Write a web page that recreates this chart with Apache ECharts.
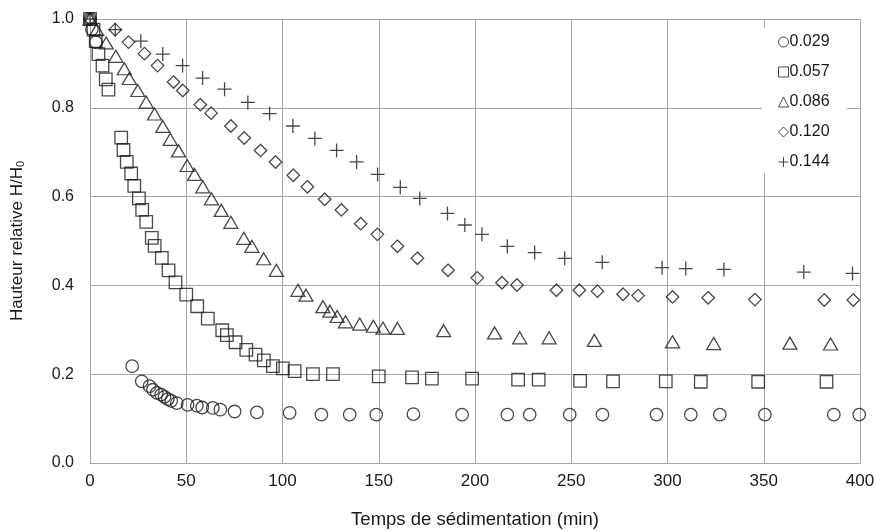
<!DOCTYPE html>
<html>
<head>
<meta charset="utf-8">
<script src="https://cdn.jsdelivr.net/npm/echarts@6/dist/echarts.min.js"></script>
<style>
html,body{margin:0;padding:0;background:#fff;}
#chart{width:876px;height:531px;}
</style>
</head>
<body>
<div id="chart"></div>
<script>
// ---- data ----
const seriesNames = ['0.029', '0.057', '0.086', '0.120', '0.144'];
const xTicks = [0, 50, 100, 150, 200, 250, 300, 350, 400];
const yTicks = [0.0, 0.2, 0.4, 0.6, 0.8, 1.0];

const x029 = [0, 1, 3, 21.9, 26.9, 30.9, 32.7, 34.7, 37, 38.7, 40.4, 42.2, 45.1, 50.7, 55.5, 58.3, 63.8, 67.7, 75.1, 86.7, 103.7, 120.2, 134.9, 148.7, 168, 193.3, 216.8, 228.4, 249.2, 266.2, 294.3, 312.1, 327.2, 350.6, 386.4, 399.6];
const y029 = [1.0, 0.977, 0.948, 0.218, 0.184, 0.173, 0.165, 0.158, 0.154, 0.149, 0.144, 0.140, 0.135, 0.131, 0.129, 0.125, 0.124, 0.120, 0.116, 0.114, 0.113, 0.109, 0.109, 0.109, 0.110, 0.109, 0.109, 0.109, 0.109, 0.109, 0.109, 0.109, 0.109, 0.109, 0.109, 0.109];

const x057 = [0, 1.8, 3, 4.4, 6.5, 8.2, 9.6, 16.2, 17.4, 19.1, 21.4, 23, 25.4, 27.1, 29.2, 32.1, 33.6, 37.3, 40.8, 44.4, 50, 55.7, 61.2, 68.7, 71.1, 75.6, 81.2, 86, 90.3, 95, 100.2, 106.3, 115.8, 126.2, 150, 167.3, 177.6, 198.5, 222.4, 233.1, 254.6, 271.7, 299.1, 317.3, 347.1, 382.6];
const y057 = [1.0, 0.976, 0.95, 0.921, 0.895, 0.864, 0.841, 0.733, 0.705, 0.678, 0.652, 0.624, 0.596, 0.570, 0.543, 0.507, 0.489, 0.462, 0.434, 0.407, 0.379, 0.353, 0.325, 0.299, 0.288, 0.272, 0.255, 0.244, 0.231, 0.218, 0.213, 0.207, 0.200, 0.200, 0.195, 0.193, 0.190, 0.190, 0.188, 0.188, 0.185, 0.184, 0.184, 0.183, 0.183, 0.183];

const x086 = [0, 3.5, 8.4, 13.4, 17.8, 20.4, 24.8, 29.2, 33.5, 37.8, 41.7, 46, 50.5, 54.3, 58.6, 63.1, 68.2, 73.2, 79.9, 84.1, 90.2, 96.8, 108, 112.2, 121, 124.6, 128.4, 132.7, 140.1, 147.2, 152.2, 159.7, 183.7, 210.2, 223.2, 238.5, 262, 302.6, 324, 363.6, 384.7];
const y086 = [1.0, 0.976, 0.946, 0.916, 0.888, 0.866, 0.839, 0.813, 0.786, 0.758, 0.729, 0.703, 0.670, 0.650, 0.622, 0.595, 0.569, 0.542, 0.506, 0.488, 0.460, 0.434, 0.389, 0.378, 0.352, 0.342, 0.330, 0.318, 0.313, 0.308, 0.304, 0.303, 0.298, 0.293, 0.282, 0.282, 0.276, 0.273, 0.269, 0.270, 0.268];

const x120 = [0, 13.1, 20, 28.3, 35.1, 43.4, 48.2, 57.3, 62.9, 73.2, 80.1, 88.6, 96.4, 105.6, 112.9, 121.9, 130.6, 140.6, 149.3, 159.7, 170.1, 186, 201.2, 214, 221.8, 242.3, 254.2, 263.6, 276.9, 284.7, 302.6, 321.1, 345.4, 381.4, 396.5];
const y120 = [1.0, 0.976, 0.948, 0.922, 0.895, 0.858, 0.839, 0.807, 0.788, 0.759, 0.732, 0.704, 0.678, 0.648, 0.622, 0.594, 0.570, 0.539, 0.515, 0.488, 0.461, 0.434, 0.417, 0.406, 0.401, 0.389, 0.389, 0.387, 0.380, 0.377, 0.374, 0.372, 0.368, 0.367, 0.367];

const x144 = [0, 13.1, 26.4, 37.8, 48.1, 58.5, 69.9, 82, 93.3, 105.4, 116.8, 128.1, 138.5, 149.4, 161.2, 171.3, 185.7, 194.7, 203.6, 216.8, 231, 246.6, 266.1, 297.2, 309.5, 329.3, 370.8, 396.1];
const y144 = [1.0, 0.976, 0.95, 0.921, 0.895, 0.867, 0.842, 0.812, 0.787, 0.759, 0.731, 0.704, 0.678, 0.650, 0.621, 0.596, 0.562, 0.536, 0.515, 0.488, 0.474, 0.461, 0.452, 0.440, 0.438, 0.436, 0.430, 0.427];

// ---- build chart ----
const pairs = (xs, ys) => xs.map((x, i) => [x, ys[i]]);
const dataSets = [pairs(x029, y029), pairs(x057, y057), pairs(x086, y086), pairs(x120, y120), pairs(x144, y144)];
const symbols = ['circle', 'rect', 'triangle', 'diamond', 'path://M0,6H12M6,0V12'];
const sizes = [12.5, 12.5, [14, 12], [12.5, 12.5], 14];

const FONT = 'Liberation Sans, Arial, sans-serif';
const INK = '#1a1a1a';
const GRID = '#a6a6a6';

const chart = echarts.init(document.getElementById('chart'), null, {renderer: 'canvas'});
chart.setOption({
  animation: false,
  backgroundColor: '#fff',
  grid: {left: 90, right: 16, top: 19, bottom: 68, containLabel: false, outerBoundsMode: 'none'},
  legend: {
    orient: 'vertical',
    left: 762,
    top: 28,
    backgroundColor: '#fff',
    padding: [6, 17, 3, 16],
    itemGap: 14,
    itemWidth: 10,
    itemHeight: 10,
    itemStyle: {borderWidth: 1},
    textStyle: {fontFamily: FONT, fontSize: 16, color: INK, padding: [0, 0, 0, -4], lineHeight: 16},
    data: seriesNames.map(n => ({name: n}))
  },
  xAxis: {
    type: 'value',
    min: 0, max: 400, interval: 50,
    name: 'Temps de sédimentation (min)',
    nameLocation: 'middle',
    nameGap: 47,
    nameTextStyle: {fontFamily: FONT, fontSize: 18.5, color: INK},
    axisLine: {show: true, lineStyle: {color: GRID, width: 1}},
    axisTick: {show: false},
    axisLabel: {fontFamily: FONT, fontSize: 17, color: INK, margin: 10,
      formatter: v => xTicks.includes(v) ? String(v) : ''},
    splitLine: {show: true, lineStyle: {color: GRID, width: 1}}
  },
  yAxis: {
    type: 'value',
    min: 0, max: 1.0, interval: 0.2,
    name: 'Hauteur relative H/H{sub|0}',
    nameLocation: 'middle',
    nameGap: 64,
    nameRotate: 90,
    nameTextStyle: {fontFamily: FONT, fontSize: 17, color: INK,
      rich: {sub: {fontFamily: FONT, fontSize: 11, color: INK, verticalAlign: 'bottom', padding: [7, 0, 0, 0]}}},
    axisLine: {show: true, lineStyle: {color: GRID, width: 1}},
    axisTick: {show: false},
    axisLabel: {fontFamily: FONT, fontSize: 16, color: INK, margin: 16,
      formatter: v => {
        const t = yTicks.find(k => Math.abs(k - v) < 1e-9);
        return t === undefined ? '' : t.toFixed(1);
      }},
    splitLine: {show: true, lineStyle: {color: GRID, width: 1}}
  },
  series: seriesNames.map((n, i) => ({
    name: n,
    type: 'scatter',
    data: dataSets[i],
    symbol: symbols[i],
    symbolSize: sizes[i],
    itemStyle: {color: 'rgba(255,255,255,0)', borderColor: INK, borderWidth: 1.3},
    emphasis: {disabled: true},
    z: 3 + i
  }))
});
</script>
</body>
</html>
